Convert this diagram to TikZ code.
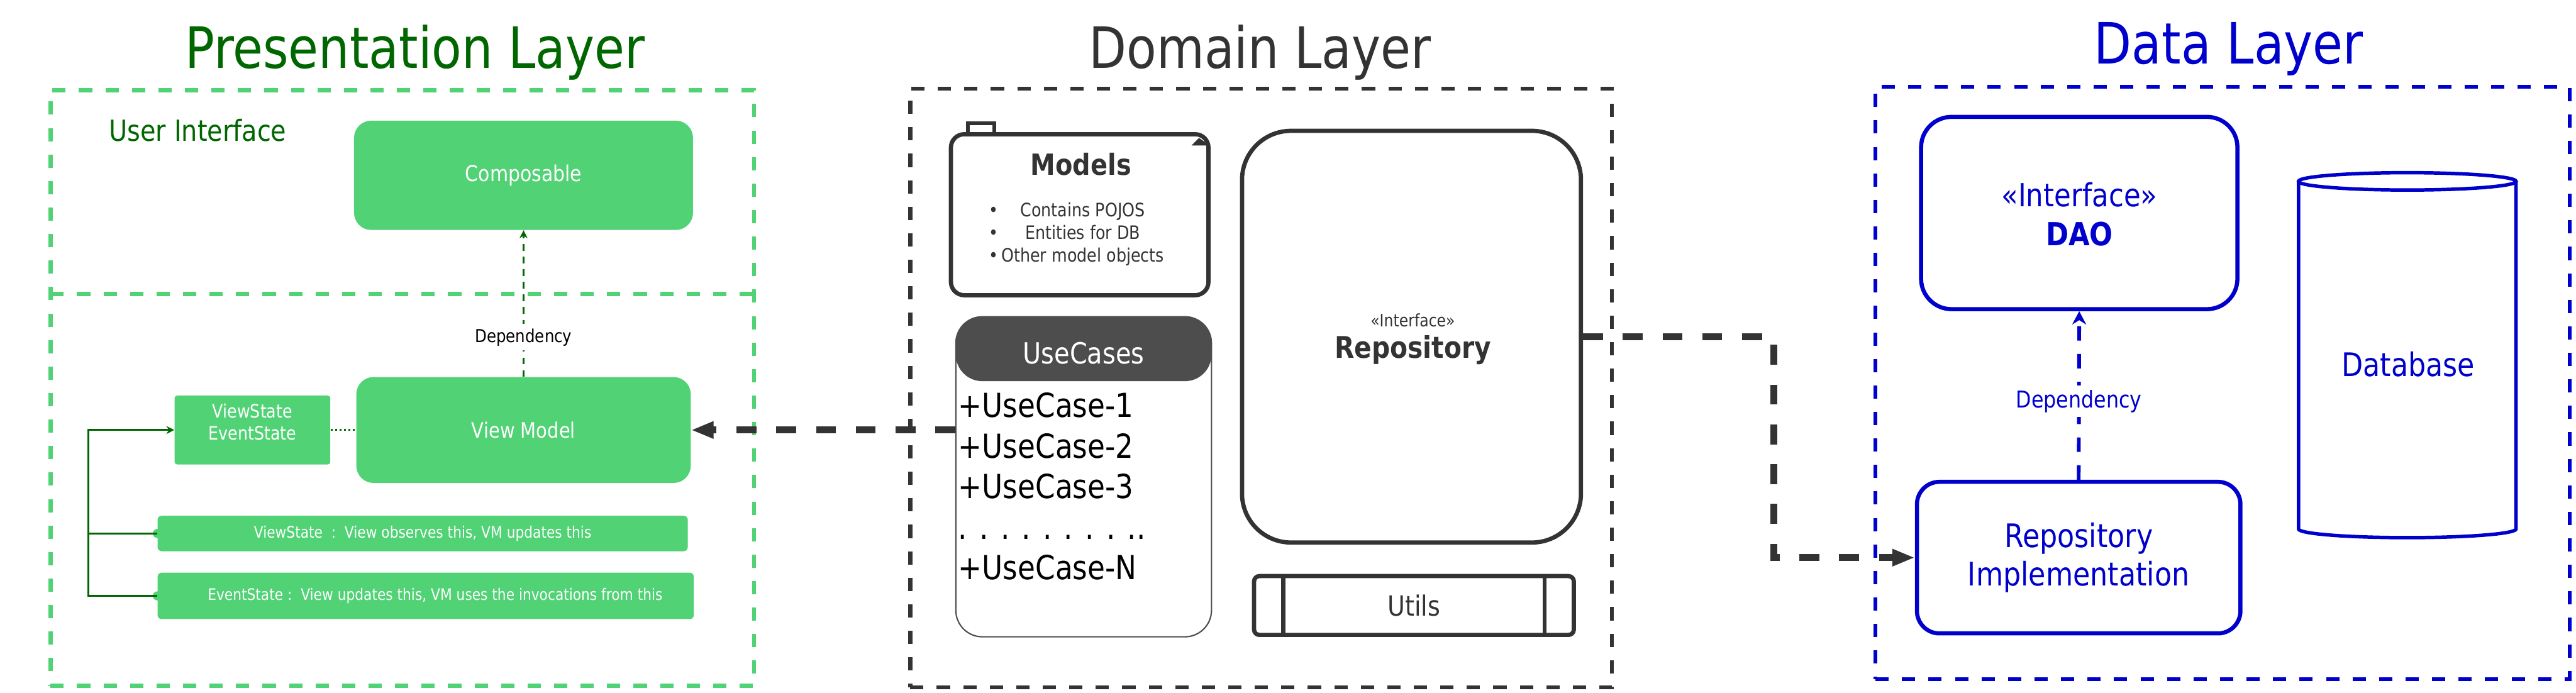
\documentclass[tikz,border=0pt]{standalone}
\usepackage{fontspec}
\setmainfont[FakeStretch=0.86]{DejaVu Sans}
\usetikzlibrary{arrows.meta}
\definecolor{pgreen}{HTML}{50D275}
\definecolor{pdark}{HTML}{006600}
\definecolor{dgray}{HTML}{333333}
\definecolor{ucgray}{HTML}{4D4D4D}
\definecolor{dblue}{HTML}{0000CC}

\begin{document}
\begin{tikzpicture}[
		title/.style={font=\fontsize{43}{50}\selectfont, anchor=base},
		layer/.style={line width=3.1pt, dash pattern=on 10pt off 10pt},
		gbox/.style={fill=pgreen, text=white, rounded corners=13pt, inner sep=0pt},
		gbar/.style={fill=pgreen, text=white, rounded corners=3pt, inner sep=0pt, font=\fontsize{12}{14}\selectfont},
		dbox/.style={draw=dgray, text=dgray, line width=3.2pt, inner sep=0pt},
		bbox/.style={draw=dblue, text=dblue, line width=3.1pt, inner sep=0pt},
		flow/.style={draw=dgray, line width=5.2pt, dash pattern=on 15pt off 15pt, -{Triangle[length=17pt,width=12pt]}},
		gline/.style={draw=pdark, line width=1.4pt},
	]
	\useasboundingbox (0,0) rectangle (68.32,-18.38);
	%
	% presentation layer
	\node[title, text=pdark] (ptitle) at (11.01,-1.81) {Presentation Layer};
	\node[layer, draw=pgreen, minimum width=18.66cm, minimum height=15.80cm] (pres) at (10.67,-10.29) {};
	\draw[layer, draw=pgreen] (1.34,-7.80) -- (20.00,-7.80);
	\node[anchor=base west, text=pdark, font=\fontsize{22}{26}\selectfont] (ui) at (2.77,-3.75) {User Interface};
	\node[gbox, minimum width=8.99cm, minimum height=2.90cm, font=\fontsize{16.5}{20}\selectfont] (comp) at (13.885,-4.65) {Composable};
	\node[gbox, minimum width=8.87cm, minimum height=2.81cm, font=\fontsize{16}{19}\selectfont] (vm) at (13.885,-11.405) {View Model};
	\node[gbox, rounded corners=2pt, minimum width=4.13cm, minimum height=1.83cm] (vses) at (6.695,-11.405) {};
	\node[text=white, align=center, font=\fontsize{14}{16.4}\selectfont] (vseslbl) at (6.695,-11.19) {ViewState\\EventState};
	\node[gbar, minimum width=14.06cm, minimum height=0.94cm] (vsbar) at (11.21,-14.15) {ViewState\ \ :\ \ View observes this, VM updates this};
	\node[gbar, minimum width=14.22cm, minimum height=1.23cm] (esbar) at (11.29,-15.805) {\hspace{0.5cm}EventState :\ \ View updates this, VM uses the invocations from this};
	\fill[pgreen] (vsbar.west) circle (0.12);
	\fill[pgreen] (esbar.west) circle (0.12);
	\coordinate (gx) at (2.34,0);
	\draw[gline, -{Stealth[length=6pt,width=6pt]}] (esbar.west) -- (esbar.west -| gx) |- (vses.west);
	\draw[gline] (vsbar.west) -- (vsbar.west -| gx);
	\draw[pdark, line width=1.4pt, dotted] (vses.east) -- (vm.west);
	\draw[pdark, line width=1.2pt, dash pattern=on 5pt off 4.5pt, -{Stealth[length=6pt,width=6pt]}] (vm.north) -- node[pos=0.27, fill=white, text=black, font=\fontsize{13.5}{16}\selectfont] {Dependency} (comp.south);
	%
	% domain layer
	\node[title, text=dgray] (dtitle) at (33.42,-1.81) {Domain Layer};
	\node[layer, draw=dgray, minimum width=18.61cm, minimum height=15.88cm] (dom) at (33.445,-10.29) {};
	\node[dbox, rounded corners=10pt, minimum width=6.83cm, minimum height=4.27cm] (models) at (28.635,-5.695) {};
	\draw[dgray, line width=2.5pt] (25.67,-3.27) rectangle (26.37,-3.58);
	\fill[dgray] (31.60,-3.86) -- (32.09,-3.86) -- (31.80,-3.66) -- cycle;
	\node[text=dgray, font=\bfseries\fontsize{22}{26}\selectfont] (modelslbl) at (28.67,-4.36) {Models};
	\node[text=dgray, font=\fontsize{14}{17}\selectfont] (modelsitems) at (28.55,-6.23)
		{\begin{tabular}{@{}c@{\,}c@{}}• & Contains POJOS\\ • & Entities for DB\\ • & Other model objects\end{tabular}};
	\node[dbox, rounded corners=37pt, minimum width=8.99cm, minimum height=10.92cm] (repo) at (37.435,-8.93) {};
	\node[text=dgray, font=\fontsize{13}{16}\selectfont] (repost) at (37.47,-8.50) {«Interface»};
	\node[text=dgray, font=\bfseries\fontsize{22.5}{27}\selectfont] (repolbl) at (37.47,-9.29) {Repository};
	\node[draw=ucgray, line width=1pt, rounded corners=20pt, minimum width=6.78cm, minimum height=8.49cm,
		path picture={\fill[ucgray] (path picture bounding box.north west) rectangle ([yshift=-1.71cm]path picture bounding box.north east);}]
		(uc) at (28.74,-12.645) {};
	\node[text=white, font=\fontsize{22}{26}\selectfont] (uclbl) at (28.74,-9.36) {UseCases};
	\node[anchor=west, inner sep=0pt, align=left, font=\fontsize{25}{30.6}\selectfont] (uclist) at (25.41,-12.90)
		{+UseCase-1\\+UseCase-2\\+UseCase-3\\. . . . . . . . ..\\+UseCase-N};
	\node[dbox, rounded corners=4pt, minimum width=8.48cm, minimum height=1.56cm, font=\fontsize{21}{25}\selectfont] (utils) at (37.50,-16.06) {Utils};
	\draw[dgray, line width=3.2pt] ([xshift=0.83cm]utils.north west) -- ([xshift=0.83cm]utils.south west);
	\draw[dgray, line width=3.2pt] ([xshift=-0.83cm]utils.north east) -- ([xshift=-0.83cm]utils.south east);
	%
	% data layer
	\node[title, text=dblue] (atitle) at (59.11,-1.70) {Data Layer};
	\node[layer, draw=dblue, minimum width=18.41cm, minimum height=15.71cm] (data) at (58.945,-10.155) {};
	\node[bbox, rounded corners=23pt, minimum width=8.39cm, minimum height=5.10cm] (dao) at (55.145,-5.65) {};
	\node[text=dblue, font=\fontsize{24}{28}\selectfont] (daost) at (55.15,-5.17) {«Interface»};
	\node[text=dblue, font=\bfseries\fontsize{24}{28}\selectfont] (daolbl) at (55.15,-6.20) {DAO};
	\node[bbox, rounded corners=17pt, minimum width=8.58cm, minimum height=4.02cm, align=center, font=\fontsize{24.5}{29}\selectfont] (rimpl) at (55.13,-14.79) {Repository\\Implementation};
	\draw[dblue, line width=2.6pt] (60.96,-4.81) -- (60.96,-14.03) arc[start angle=180, end angle=360, x radius=2.885, y radius=0.23] -- (66.73,-4.81);
	\draw[dblue, line width=2.6pt] (63.845,-4.81) ellipse [x radius=2.885, y radius=0.23];
	\node[text=dblue, font=\fontsize{24.5}{29}\selectfont] (db) at (63.87,-9.66) {Database};
	\draw[dblue, line width=2.8pt, dash pattern=on 11pt off 10pt, -{Stealth[length=10pt,width=10.5pt]}] (rimpl.north) -- node[pos=0.465, fill=white, font=\fontsize{17.5}{21}\selectfont] {Dependency} (dao.south);
	%
	% layer connections
	\draw[flow] (uc.west |- vm.east) -- (vm.east);
	\coordinate (turn) at (47.04,-8.93);
	\draw[flow] (repo.east) -- (turn) |- (rimpl.west);
\end{tikzpicture}
\end{document}
